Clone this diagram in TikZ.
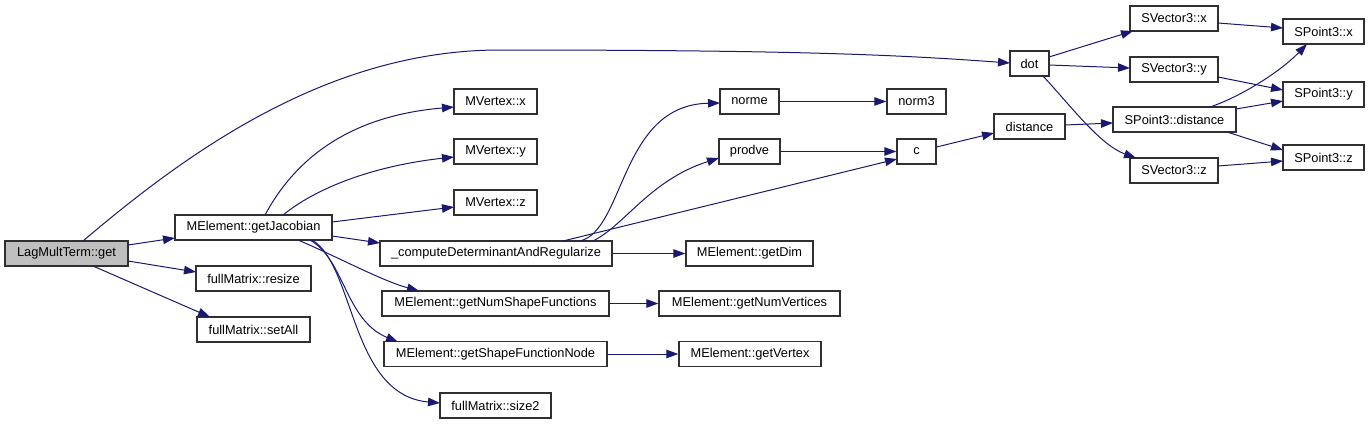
\documentclass[tikz,border=0pt]{standalone}
\usepackage{fontspec}
\setmainfont{Liberation Sans}
\usetikzlibrary{arrows.meta}
\definecolor{edgec}{HTML}{191970}
\definecolor{boxc}{HTML}{303030}
\definecolor{hil}{HTML}{BFBFBF}
\begin{document}
\begin{tikzpicture}[x=1pt,y=-1pt,
  fn/.style={draw=boxc,line width=1.3pt,fill=white,minimum height=25pt,inner sep=0pt,font=\fontsize{12.8}{15}\selectfont,text=black},
  edge/.style={draw=edgec,line width=1pt,-{Triangle[length=12pt,width=8.5pt]}}]
\useasboundingbox (0,0) rectangle (1369,424);
% nodes
\node[fn,fill=hil,minimum width=123pt] (get) at (66.5,253.5) {LagMultTerm::get};
\node[fn,minimum width=157pt] (gj) at (253.5,227.5) {MElement::getJacobian};
\node[fn,minimum width=115pt] (resize) at (253.5,278.5) {fullMatrix::resize};
\node[fn,minimum width=113pt] (setall) at (253.5,329.5) {fullMatrix::setAll};
\node[fn,minimum width=83pt] (mvx) at (495.5,101.5) {MVertex::x};
\node[fn,minimum width=83pt] (mvy) at (495.5,151.5) {MVertex::y};
\node[fn,minimum width=83pt] (mvz) at (495.5,202.5) {MVertex::z};
\node[fn,minimum width=232pt] (cdr) at (496,253.5) {\_computeDeterminantAndRegularize};
\node[fn,minimum width=227pt] (nsf) at (495.5,303.5) {MElement::getNumShapeFunctions};
\node[fn,minimum width=223pt] (sfn) at (495.5,354) {MElement::getShapeFunctionNode};
\node[fn,minimum width=111pt] (size2) at (495.5,405.5) {fullMatrix::size2};
\node[fn,minimum width=59pt] (norme) at (749.5,101.5) {norme};
\node[fn,minimum width=61pt] (prodve) at (749.5,151.5) {prodve};
\node[fn,minimum width=127pt] (getdim) at (749.5,253.5) {MElement::getDim};
\node[fn,minimum width=181pt] (nv) at (749.5,303.5) {MElement::getNumVertices};
\node[fn,minimum width=142pt] (gv) at (750,354) {MElement::getVertex};
\node[fn,minimum width=59pt] (norm3) at (916.5,101.5) {norm3};
\node[fn,minimum width=39pt] (c) at (916.5,151.5) {c};
\node[fn,minimum width=39pt] (dot) at (1029.5,63.5) {dot};
\node[fn,minimum width=71pt] (dist) at (1029.5,126.5) {distance};
\node[fn,minimum width=88pt] (svx) at (1174,18.5) {SVector3::x};
\node[fn,minimum width=88pt] (svy) at (1174,69.5) {SVector3::y};
\node[fn,minimum width=123pt] (spd) at (1174.5,119.5) {SPoint3::distance};
\node[fn,minimum width=88pt] (svz) at (1174,170.5) {SVector3::z};
\node[fn,minimum width=81pt] (spx) at (1323.5,31.5) {SPoint3::x};
\node[fn,minimum width=81pt] (spy) at (1323.5,94.5) {SPoint3::y};
\node[fn,minimum width=81pt] (spz) at (1323.5,157.5) {SPoint3::z};
% edges
\draw[edge] ([shift={(61.5,-8.5)}]get.center) -- ([shift={(-78.5,10.5)}]gj.center);
\draw[edge] ([shift={(61.5,7.5)}]get.center) -- ([shift={(-57.5,-6.5)}]resize.center);
\draw[edge] ([shift={(26.5,12.5)}]get.center) -- ([shift={(-43.5,-12.5)}]setall.center);
\draw[edge] ([shift={(16.5,-12.5)}]get.center) .. controls (190,150) and (330,50) .. (500,50) .. controls (800,50) and (900,55) .. ([shift={(-19.5,-0.5)}]dot.center);
\draw[edge] ([shift={(11.5,-12.5)}]gj.center) .. controls (300,150) and (360,115) .. ([shift={(-41.5,5.5)}]mvx.center);
\draw[edge] ([shift={(29.5,-12.5)}]gj.center) .. controls (320,185) and (380,165) .. ([shift={(-41.5,5.5)}]mvy.center);
\draw[edge] ([shift={(78.5,-5.5)}]gj.center) -- ([shift={(-41.5,4.5)}]mvz.center);
\draw[edge] ([shift={(78.5,8.5)}]gj.center) -- ([shift={(-116,-10.5)}]cdr.center);
\draw[edge] ([shift={(44.5,12.5)}]gj.center) .. controls (340,258) and (380,280) .. ([shift={(-76.5,-12.5)}]nsf.center);
\draw[edge] ([shift={(56.5,12.5)}]gj.center) .. controls (345,260) and (345,320) .. ([shift={(-97.5,-12)}]sfn.center);
\draw[edge] ([shift={(58.5,12.5)}]gj.center) .. controls (355,265) and (350,395) .. ([shift={(-55.5,-2.5)}]size2.center);
\draw[edge] ([shift={(67,-12.5)}]cdr.center) -- ([shift={(-19.5,7.5)}]c.center);
\draw[edge] ([shift={(84,-12.5)}]cdr.center) .. controls (625,230) and (620,105) .. ([shift={(-29.5,1.5)}]norme.center);
\draw[edge] ([shift={(97,-12.5)}]cdr.center) .. controls (625,225) and (650,180) .. ([shift={(-30.5,6.5)}]prodve.center);
\draw[edge] (cdr.east) -- (getdim.west);
\draw[edge] (nsf.east) -- (nv.west);
\draw[edge] (sfn.east) -- (gv.west);
\draw[edge] (norme.east) -- (norm3.west);
\draw[edge] (prodve.east) -- (c.west);
\draw[edge] ([shift={(20,-4.5)}]c.center) -- ([shift={(-35.5,6.5)}]dist.center);
\draw[edge] ([shift={(35.5,-1.5)}]dist.center) -- ([shift={(-61.5,3.5)}]spd.center);
\draw[edge] ([shift={(19.5,-6.5)}]dot.center) -- ([shift={(-41,12.5)}]svx.center);
\draw[edge] ([shift={(19.5,1.5)}]dot.center) -- ([shift={(-44,-1.5)}]svy.center);
\draw[edge] ([shift={(13.5,12.5)}]dot.center) .. controls (1070,105) and (1100,145) .. ([shift={(-38,-12.5)}]svz.center);
\draw[edge] ([shift={(44,4.5)}]svx.center) -- ([shift={(-40.5,-3.5)}]spx.center);
\draw[edge] ([shift={(44,7.5)}]svy.center) -- ([shift={(-40.5,-4.5)}]spy.center);
\draw[edge] ([shift={(44,-4.5)}]svz.center) -- ([shift={(-40.5,3.5)}]spz.center);
\draw[edge] ([shift={(35.5,-12.5)}]spd.center) .. controls (1240,97) and (1280,72) .. ([shift={(-16.5,12.5)}]spx.center);
\draw[edge] ([shift={(61.5,-10.5)}]spd.center) -- ([shift={(-40.5,6.5)}]spy.center);
\draw[edge] ([shift={(52.5,12.5)}]spd.center) -- ([shift={(-40.5,-7.5)}]spz.center);
\end{tikzpicture}
\end{document}
